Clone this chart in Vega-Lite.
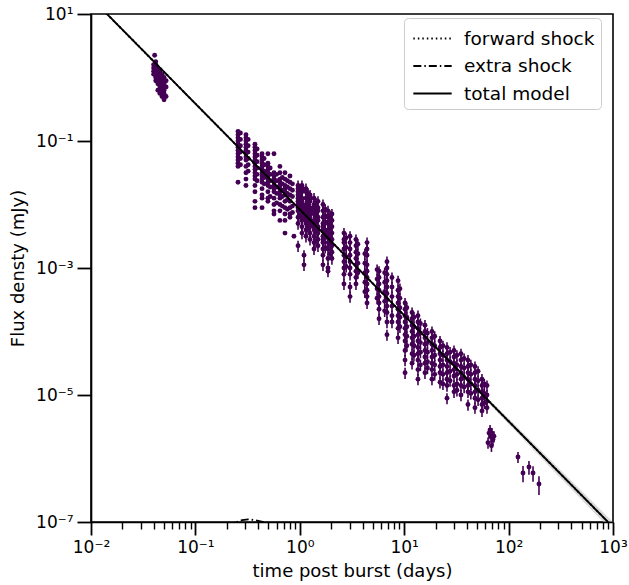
{
"$schema": "https://vega.github.io/schema/vega-lite/v6.json",
"width": 522, "height": 508,
"autosize": {"type": "none"},
"padding": {"left": 91, "top": 14, "right": 16, "bottom": 63},
"config": {
  "view": {"stroke": "black", "strokeWidth": 1.6},
  "font": "DejaVu Sans",
  "axis": {"domainColor": "black", "domainWidth": 1.6, "tickColor": "black", "labelColor": "black", "titleColor": "black", "labelFont": "DejaVu Sans", "titleFont": "DejaVu Sans", "labelFontSize": 17, "titleFontSize": 18, "titleFontWeight": "normal", "grid": false, "labelFlush": false, "labelOverlap": false, "labelBound": false}
},
"resolve": {"axis": {"x": "independent"}},
"datasets": {
"band": [
{"t":10,"lo":1.76e-4,"hi":1.83e-4},{"t":31.62,"lo":2.5e-5,"hi":2.78e-5},{"t":100,"lo":3.5e-6,"hi":4.26e-6},{"t":316.2,"lo":4.9e-7,"hi":6.55e-7},{"t":1000,"lo":6.9e-8,"hi":1.0e-7}
],
"lines": [
{"t":0.01,"f":17.99,"c":"forward shock"},{"t":0.1,"f":0.3873,"c":"forward shock"},{"t":1,"f":8.337e-3,"c":"forward shock"},{"t":10,"f":1.795e-4,"c":"forward shock"},{"t":100,"f":3.864e-6,"c":"forward shock"},{"t":1000,"f":8.318e-8,"c":"forward shock"},
{"t":0.22,"f":7e-8,"c":"extra shock"},{"t":0.25,"f":1.0e-7,"c":"extra shock"},{"t":0.28,"f":1.07e-7,"c":"extra shock"},{"t":0.32,"f":1.1e-7,"c":"extra shock"},{"t":0.36,"f":1.08e-7,"c":"extra shock"},{"t":0.40,"f":1.04e-7,"c":"extra shock"},{"t":0.44,"f":1.0e-7,"c":"extra shock"},{"t":0.5,"f":9e-8,"c":"extra shock"},
{"t":0.01,"f":17.99,"c":"total model"},{"t":0.1,"f":0.3873,"c":"total model"},{"t":1,"f":8.337e-3,"c":"total model"},{"t":10,"f":1.795e-4,"c":"total model"},{"t":100,"f":3.864e-6,"c":"total model"},{"t":1000,"f":8.318e-8,"c":"total model"}
],
"early": [
{"t":0.0407,"f":2.239},
{"t":0.0398,"f":1.585},{"t":0.0398,"f":1.413},{"t":0.0398,"f":1.259},{"t":0.0398,"f":1.122},
{"t":0.0417,"f":1.778},{"t":0.0417,"f":1.585},{"t":0.0417,"f":1.259},{"t":0.0417,"f":1.0},{"t":0.0417,"f":0.891},
{"t":0.0437,"f":1.413},{"t":0.0437,"f":1.122},{"t":0.0437,"f":0.891},{"t":0.0437,"f":0.794},{"t":0.0437,"f":1.259},{"t":0.0437,"f":0.631},
{"t":0.0457,"f":1.259},{"t":0.0457,"f":1.0},{"t":0.0457,"f":0.794},{"t":0.0457,"f":0.708},{"t":0.0457,"f":0.562},{"t":0.0457,"f":1.122},
{"t":0.0479,"f":1.122},{"t":0.0479,"f":0.891},{"t":0.0479,"f":0.708},{"t":0.0479,"f":0.631},{"t":0.0479,"f":0.501},{"t":0.0479,"f":1.0},
{"t":0.0501,"f":1.0},{"t":0.0501,"f":0.794},{"t":0.0501,"f":0.631},{"t":0.0501,"f":0.562},{"t":0.0501,"f":0.447},
{"t":0.0524,"f":0.891},{"t":0.0524,"f":0.708},{"t":0.0524,"f":0.501},
{"t":0.0407,"f":1.334},{"t":0.0427,"f":1.0},{"t":0.0447,"f":0.85},{"t":0.0468,"f":0.75},{"t":0.049,"f":0.6},
{"t":0.256,"f":0.1413},{"t":0.256,"f":0.1259},{"t":0.256,"f":0.1122},{"t":0.256,"f":0.1},{"t":0.256,"f":0.08913},{"t":0.256,"f":0.07943},{"t":0.256,"f":0.07079},{"t":0.256,"f":0.0631},{"t":0.256,"f":0.05623},{"t":0.256,"f":0.05012},{"t":0.256,"f":0.04467},{"t":0.256,"f":0.03981},{"t":0.256,"f":0.02239},
{"t":0.27,"f":0.1334},{"t":0.27,"f":0.1059},{"t":0.27,"f":0.08414},{"t":0.27,"f":0.06683},{"t":0.27,"f":0.05309},{"t":0.27,"f":0.04217},
{"t":0.305,"f":0.1259},{"t":0.305,"f":0.1122},{"t":0.305,"f":0.1},{"t":0.305,"f":0.08913},{"t":0.305,"f":0.07943},{"t":0.305,"f":0.07079},{"t":0.305,"f":0.0631},{"t":0.305,"f":0.05623},{"t":0.305,"f":0.05012},{"t":0.305,"f":0.03981},{"t":0.305,"f":0.03162},{"t":0.305,"f":0.02512},{"t":0.305,"f":0.01995},
{"t":0.32,"f":0.1059},{"t":0.32,"f":0.08414},{"t":0.32,"f":0.06683},{"t":0.32,"f":0.05309},{"t":0.32,"f":0.04217},{"t":0.32,"f":0.0335},
{"t":0.372,"f":0.08913},{"t":0.372,"f":0.07943},{"t":0.372,"f":0.07079},{"t":0.372,"f":0.0631},{"t":0.372,"f":0.05623},{"t":0.372,"f":0.05012},{"t":0.372,"f":0.04467},{"t":0.372,"f":0.03981},{"t":0.372,"f":0.03548},{"t":0.372,"f":0.03162},{"t":0.372,"f":0.02818},{"t":0.372,"f":0.02512},{"t":0.372,"f":0.01995},{"t":0.372,"f":0.01585},{"t":0.372,"f":0.01122},{"t":0.372,"f":0.008913},
{"t":0.39,"f":0.07499},{"t":0.39,"f":0.05957},{"t":0.39,"f":0.04732},{"t":0.39,"f":0.03758},{"t":0.39,"f":0.02985},{"t":0.39,"f":0.02371},
{"t":0.435,"f":0.0631},{"t":0.435,"f":0.05623},{"t":0.435,"f":0.05012},{"t":0.435,"f":0.04467},{"t":0.435,"f":0.03981},{"t":0.435,"f":0.03548},{"t":0.435,"f":0.03162},{"t":0.435,"f":0.02818},{"t":0.435,"f":0.02512},{"t":0.435,"f":0.02239},{"t":0.435,"f":0.01778},{"t":0.435,"f":0.01413},{"t":0.435,"f":0.01259},{"t":0.435,"f":0.008913},
{"t":0.455,"f":0.05309},{"t":0.455,"f":0.04217},{"t":0.455,"f":0.0335},{"t":0.455,"f":0.02661},{"t":0.455,"f":0.02113},
{"t":0.495,"f":0.0631},{"t":0.495,"f":0.04467},{"t":0.495,"f":0.03981},{"t":0.495,"f":0.03548},{"t":0.495,"f":0.03162},{"t":0.495,"f":0.02818},{"t":0.495,"f":0.02512},{"t":0.495,"f":0.02239},{"t":0.495,"f":0.01995},{"t":0.495,"f":0.01585},{"t":0.495,"f":0.01259},{"t":0.495,"f":0.01122},
{"t":0.52,"f":0.03758},{"t":0.52,"f":0.02985},{"t":0.52,"f":0.02371},{"t":0.52,"f":0.01884},{"t":0.52,"f":0.01334},
{"t":0.566,"f":0.0631},{"t":0.566,"f":0.03162},{"t":0.566,"f":0.02818},{"t":0.566,"f":0.02512},{"t":0.566,"f":0.02239},{"t":0.566,"f":0.01995},{"t":0.566,"f":0.01778},{"t":0.566,"f":0.01585},{"t":0.566,"f":0.01259},{"t":0.566,"f":0.01},{"t":0.566,"f":0.007943},{"t":0.566,"f":0.007079},
{"t":0.6,"f":0.02985},{"t":0.6,"f":0.02371},{"t":0.6,"f":0.01884},{"t":0.6,"f":0.01496},{"t":0.6,"f":0.01059},
{"t":0.645,"f":0.03981},{"t":0.645,"f":0.03162},{"t":0.645,"f":0.02512},{"t":0.645,"f":0.02239},{"t":0.645,"f":0.01995},{"t":0.645,"f":0.01778},{"t":0.645,"f":0.01585},{"t":0.645,"f":0.01413},{"t":0.645,"f":0.01259},{"t":0.645,"f":0.01},{"t":0.645,"f":0.007943},{"t":0.645,"f":0.005623},
{"t":0.68,"f":0.02661},{"t":0.68,"f":0.02113},{"t":0.68,"f":0.01679},{"t":0.68,"f":0.01334},{"t":0.68,"f":0.009441},
{"t":0.721,"f":0.03162},{"t":0.721,"f":0.02512},{"t":0.721,"f":0.01995},{"t":0.721,"f":0.01778},{"t":0.721,"f":0.01585},{"t":0.721,"f":0.01413},{"t":0.721,"f":0.01122},{"t":0.721,"f":0.008913},{"t":0.721,"f":0.007079},{"t":0.721,"f":0.005623},{"t":0.721,"f":0.003548},
{"t":0.76,"f":0.02371},{"t":0.76,"f":0.01884},{"t":0.76,"f":0.01496},{"t":0.76,"f":0.01189},{"t":0.76,"f":0.008414},
{"t":0.805,"f":0.02818},{"t":0.805,"f":0.02239},{"t":0.805,"f":0.01778},{"t":0.805,"f":0.01413},{"t":0.805,"f":0.01122},{"t":0.805,"f":0.008913},{"t":0.805,"f":0.007079},{"t":0.805,"f":0.00631},
{"t":0.85,"f":0.02113},{"t":0.85,"f":0.01679},{"t":0.85,"f":0.01334},{"t":0.85,"f":0.009441},{"t":0.85,"f":0.007499},
{"t":0.879,"f":0.003162}
],
"obs": [
{"t":0.962,"f":1.995e-2,"e":3.99e-3},{"t":0.962,"f":1.778e-2,"e":3.56e-3},{"t":0.962,"f":1.585e-2,"e":3.17e-3},{"t":0.962,"f":1.413e-2,"e":2.83e-3},{"t":0.962,"f":1.259e-2,"e":2.52e-3},{"t":0.962,"f":1.122e-2,"e":2.24e-3},{"t":0.962,"f":1e-2,"e":2e-3},{"t":0.962,"f":8.913e-3,"e":1.78e-3},{"t":0.962,"f":7.943e-3,"e":1.59e-3},{"t":0.962,"f":6.31e-3,"e":1.26e-3},{"t":0.962,"f":5.012e-3,"e":1e-3},{"t":0.962,"f":2.239e-3,"e":4.48e-4},
{"t":1.01,"f":1.679e-2,"e":3.36e-3},{"t":1.01,"f":1.334e-2,"e":2.67e-3},{"t":1.01,"f":1.059e-2,"e":2.12e-3},{"t":1.01,"f":8.414e-3,"e":1.68e-3},{"t":1.01,"f":6.683e-3,"e":1.34e-3},
{"t":1.049,"f":1.995e-2,"e":3.99e-3},{"t":1.049,"f":1.778e-2,"e":3.56e-3},{"t":1.049,"f":1.585e-2,"e":3.17e-3},{"t":1.049,"f":1.259e-2,"e":2.52e-3},{"t":1.049,"f":1.122e-2,"e":2.24e-3},{"t":1.049,"f":1e-2,"e":2e-3},{"t":1.049,"f":8.913e-3,"e":1.78e-3},{"t":1.049,"f":7.943e-3,"e":1.59e-3},{"t":1.049,"f":7.079e-3,"e":1.42e-3},{"t":1.049,"f":6.31e-3,"e":1.26e-3},{"t":1.049,"f":5.623e-3,"e":1.12e-3},{"t":1.049,"f":4.467e-3,"e":8.93e-4},{"t":1.049,"f":3.548e-3,"e":7.1e-4},
{"t":1.097,"f":1.585e-3,"e":3.17e-4},{"t":1.097,"f":1.122e-3,"e":2.24e-4},
{"t":1.146,"f":1.778e-2,"e":3.56e-3},{"t":1.146,"f":1.585e-2,"e":3.17e-3},{"t":1.146,"f":1.259e-2,"e":2.52e-3},{"t":1.146,"f":1e-2,"e":2e-3},{"t":1.146,"f":8.913e-3,"e":1.78e-3},{"t":1.146,"f":7.943e-3,"e":1.59e-3},{"t":1.146,"f":7.079e-3,"e":1.42e-3},{"t":1.146,"f":6.31e-3,"e":1.26e-3},{"t":1.146,"f":5.623e-3,"e":1.12e-3},{"t":1.146,"f":5.012e-3,"e":1e-3},{"t":1.146,"f":3.981e-3,"e":7.96e-4},{"t":1.146,"f":3.162e-3,"e":6.32e-4},
{"t":1.2,"f":1.496e-2,"e":2.99e-3},{"t":1.2,"f":1.189e-2,"e":2.38e-3},{"t":1.2,"f":9.441e-3,"e":1.89e-3},{"t":1.2,"f":7.499e-3,"e":1.5e-3},{"t":1.2,"f":5.309e-3,"e":1.06e-3},{"t":1.2,"f":4.217e-3,"e":8.43e-4},
{"t":1.253,"f":1.413e-2,"e":2.83e-3},{"t":1.253,"f":1.259e-2,"e":2.52e-3},{"t":1.253,"f":1.122e-2,"e":2.24e-3},{"t":1.253,"f":8.913e-3,"e":1.78e-3},{"t":1.253,"f":7.943e-3,"e":1.59e-3},{"t":1.253,"f":7.079e-3,"e":1.42e-3},{"t":1.253,"f":6.31e-3,"e":1.26e-3},{"t":1.253,"f":5.623e-3,"e":1.12e-3},{"t":1.253,"f":5.012e-3,"e":1e-3},{"t":1.253,"f":4.467e-3,"e":8.93e-4},{"t":1.253,"f":3.548e-3,"e":7.1e-4},{"t":1.253,"f":2.818e-3,"e":5.64e-4},
{"t":1.368,"f":1.259e-2,"e":2.52e-3},{"t":1.368,"f":1e-2,"e":2e-3},{"t":1.368,"f":8.913e-3,"e":1.78e-3},{"t":1.368,"f":7.943e-3,"e":1.59e-3},{"t":1.368,"f":7.079e-3,"e":1.42e-3},{"t":1.368,"f":5.623e-3,"e":1.12e-3},{"t":1.368,"f":5.012e-3,"e":1e-3},{"t":1.368,"f":4.467e-3,"e":8.93e-4},{"t":1.368,"f":3.981e-3,"e":7.96e-4},{"t":1.368,"f":3.162e-3,"e":6.32e-4},{"t":1.368,"f":2.512e-3,"e":5.02e-4},{"t":1.368,"f":1.995e-3,"e":3.99e-4},
{"t":1.43,"f":1.059e-2,"e":2.12e-3},{"t":1.43,"f":8.414e-3,"e":1.68e-3},{"t":1.43,"f":6.683e-3,"e":1.34e-3},{"t":1.43,"f":5.309e-3,"e":1.06e-3},{"t":1.43,"f":3.758e-3,"e":7.52e-4},{"t":1.43,"f":2.661e-3,"e":5.32e-4},
{"t":1.493,"f":1.122e-2,"e":2.24e-3},{"t":1.493,"f":8.913e-3,"e":1.78e-3},{"t":1.493,"f":7.943e-3,"e":1.59e-3},{"t":1.493,"f":6.31e-3,"e":1.26e-3},{"t":1.493,"f":5.623e-3,"e":1.12e-3},{"t":1.493,"f":4.467e-3,"e":8.93e-4},{"t":1.493,"f":3.981e-3,"e":7.96e-4},{"t":1.493,"f":3.548e-3,"e":7.1e-4},{"t":1.493,"f":2.818e-3,"e":5.64e-4},{"t":1.493,"f":2.239e-3,"e":4.48e-4},
{"t":1.667,"f":1e-2,"e":2e-3},{"t":1.667,"f":7.943e-3,"e":1.59e-3},{"t":1.667,"f":6.31e-3,"e":1.26e-3},{"t":1.667,"f":5.012e-3,"e":1e-3},{"t":1.667,"f":4.467e-3,"e":8.93e-4},{"t":1.667,"f":3.981e-3,"e":7.96e-4},{"t":1.667,"f":3.162e-3,"e":6.32e-4},{"t":1.667,"f":2.818e-3,"e":5.64e-4},{"t":1.667,"f":2.512e-3,"e":5.02e-4},{"t":1.667,"f":1.995e-3,"e":3.99e-4},{"t":1.667,"f":1.585e-3,"e":3.17e-4},{"t":1.667,"f":1.122e-3,"e":2.24e-4},
{"t":1.75,"f":8.414e-3,"e":1.68e-3},{"t":1.75,"f":6.683e-3,"e":1.34e-3},{"t":1.75,"f":5.309e-3,"e":1.06e-3},{"t":1.75,"f":3.758e-3,"e":7.52e-4},{"t":1.75,"f":2.985e-3,"e":5.97e-4},{"t":1.75,"f":2.113e-3,"e":4.23e-4},
{"t":1.862,"f":7.943e-3,"e":1.59e-3},{"t":1.862,"f":6.31e-3,"e":1.26e-3},{"t":1.862,"f":5.012e-3,"e":1e-3},{"t":1.862,"f":3.981e-3,"e":7.96e-4},{"t":1.862,"f":3.548e-3,"e":7.1e-4},{"t":1.862,"f":3.162e-3,"e":6.32e-4},{"t":1.862,"f":2.512e-3,"e":5.02e-4},{"t":1.862,"f":1.995e-3,"e":3.99e-4},{"t":1.862,"f":1.413e-3,"e":2.83e-4},{"t":1.862,"f":1e-3,"e":2e-4},{"t":1.862,"f":8.913e-4,"e":1.78e-4},
{"t":1.95,"f":6.683e-3,"e":1.34e-3},{"t":1.95,"f":5.309e-3,"e":1.06e-3},{"t":1.95,"f":4.217e-3,"e":8.43e-4},{"t":1.95,"f":2.985e-3,"e":5.97e-4},{"t":1.95,"f":2.371e-3,"e":4.74e-4},{"t":1.95,"f":1.679e-3,"e":3.36e-4},
{"t":2.032,"f":7.079e-3,"e":1.42e-3},{"t":2.032,"f":5.623e-3,"e":1.12e-3},{"t":2.032,"f":4.467e-3,"e":8.93e-4},{"t":2.032,"f":3.548e-3,"e":7.1e-4},{"t":2.032,"f":2.818e-3,"e":5.64e-4},{"t":2.032,"f":2.239e-3,"e":4.48e-4},{"t":2.032,"f":1.778e-3,"e":3.56e-4},{"t":2.032,"f":1.413e-3,"e":2.83e-4},
{"t":2.649,"f":3.548e-3,"e":7.1e-4},{"t":2.649,"f":2.818e-3,"e":5.64e-4},{"t":2.649,"f":2.512e-3,"e":5.02e-4},{"t":2.649,"f":1.995e-3,"e":3.99e-4},{"t":2.649,"f":1.585e-3,"e":3.17e-4},{"t":2.649,"f":1.259e-3,"e":2.52e-4},{"t":2.649,"f":1e-3,"e":2e-4},{"t":2.649,"f":7.943e-4,"e":1.59e-4},{"t":2.649,"f":5.623e-4,"e":1.12e-4},
{"t":2.78,"f":2.985e-3,"e":5.97e-4},{"t":2.78,"f":2.113e-3,"e":4.23e-4},{"t":2.78,"f":1.496e-3,"e":2.99e-4},{"t":2.78,"f":1.059e-3,"e":2.12e-4},
{"t":3.027,"f":3.162e-3,"e":6.32e-4},{"t":3.027,"f":2.512e-3,"e":5.02e-4},{"t":3.027,"f":1.995e-3,"e":3.99e-4},{"t":3.027,"f":1.585e-3,"e":3.17e-4},{"t":3.027,"f":1.259e-3,"e":2.52e-4},{"t":3.027,"f":1e-3,"e":2e-4},{"t":3.027,"f":7.943e-4,"e":1.59e-4},{"t":3.027,"f":5.012e-4,"e":1e-4},{"t":3.027,"f":3.548e-4,"e":7.1e-5},
{"t":3.451,"f":2.818e-3,"e":5.64e-4},{"t":3.451,"f":2.239e-3,"e":4.48e-4},{"t":3.451,"f":1.778e-3,"e":3.56e-4},{"t":3.451,"f":1.413e-3,"e":2.83e-4},{"t":3.451,"f":1.122e-3,"e":2.24e-4},{"t":3.451,"f":8.913e-4,"e":1.78e-4},{"t":3.451,"f":7.079e-4,"e":1.42e-4},{"t":3.451,"f":5.623e-4,"e":1.12e-4},
{"t":3.6,"f":2.371e-3,"e":4.74e-4},{"t":3.6,"f":1.679e-3,"e":3.36e-4},{"t":3.6,"f":1.189e-3,"e":2.38e-4},{"t":3.6,"f":8.414e-4,"e":1.68e-4},
{"t":4.2,"f":1.679e-3,"e":3.36e-4},{"t":4.2,"f":1.189e-3,"e":2.38e-4},{"t":4.2,"f":8.414e-4,"e":1.68e-4},{"t":4.2,"f":5.957e-4,"e":1.19e-4},{"t":4.2,"f":4.217e-4,"e":8.43e-5},
{"t":4.406,"f":2.512e-3,"e":5.02e-4},{"t":4.406,"f":1.995e-3,"e":3.99e-4},{"t":4.406,"f":1.585e-3,"e":3.17e-4},{"t":4.406,"f":1.122e-3,"e":2.24e-4},{"t":4.406,"f":8.913e-4,"e":1.78e-4},{"t":4.406,"f":7.079e-4,"e":1.42e-4},{"t":4.406,"f":5.623e-4,"e":1.12e-4},{"t":4.406,"f":4.467e-4,"e":8.93e-5},{"t":4.406,"f":3.548e-4,"e":7.1e-5},{"t":4.406,"f":2.818e-4,"e":5.64e-5},
{"t":5.5,"f":9.441e-4,"e":1.89e-4},{"t":5.5,"f":6.683e-4,"e":1.34e-4},{"t":5.5,"f":4.732e-4,"e":9.46e-5},{"t":5.5,"f":3.35e-4,"e":6.7e-5},
{"t":5.741,"f":8.913e-4,"e":1.78e-4},{"t":5.741,"f":7.079e-4,"e":1.42e-4},{"t":5.741,"f":5.623e-4,"e":1.12e-4},{"t":5.741,"f":4.467e-4,"e":8.93e-5},{"t":5.741,"f":3.548e-4,"e":7.1e-5},{"t":5.741,"f":2.818e-4,"e":5.64e-5},{"t":5.741,"f":2.239e-4,"e":4.48e-5},{"t":5.741,"f":1.585e-4,"e":3.17e-5},
{"t":6.5,"f":8.414e-4,"e":1.68e-4},{"t":6.5,"f":5.957e-4,"e":1.19e-4},{"t":6.5,"f":4.217e-4,"e":8.43e-5},{"t":6.5,"f":2.985e-4,"e":5.97e-5},{"t":6.5,"f":2.113e-4,"e":4.23e-5},
{"t":6.839,"f":1.259e-3,"e":2.52e-4},{"t":6.839,"f":1e-3,"e":2e-4},{"t":6.839,"f":7.943e-4,"e":1.59e-4},{"t":6.839,"f":6.31e-4,"e":1.26e-4},{"t":6.839,"f":5.012e-4,"e":1e-4},{"t":6.839,"f":3.981e-4,"e":7.96e-5},{"t":6.839,"f":3.162e-4,"e":6.32e-5},{"t":6.839,"f":2.512e-4,"e":5.02e-5},{"t":6.839,"f":1.995e-4,"e":3.99e-5},{"t":6.839,"f":1.413e-4,"e":2.83e-5},{"t":6.839,"f":8.913e-5,"e":1.78e-5},
{"t":7.638,"f":7.079e-4,"e":1.42e-4},{"t":7.638,"f":5.012e-4,"e":1e-4},{"t":7.638,"f":3.548e-4,"e":7.1e-5},{"t":7.638,"f":2.512e-4,"e":5.02e-5},{"t":7.638,"f":1.778e-4,"e":3.56e-5},{"t":7.638,"f":1.413e-4,"e":2.83e-5},
{"t":8.73,"f":6.31e-4,"e":1.26e-4},{"t":8.73,"f":4.467e-4,"e":8.93e-5},{"t":8.73,"f":3.548e-4,"e":7.1e-5},{"t":8.73,"f":2.818e-4,"e":5.64e-5},{"t":8.73,"f":2.239e-4,"e":4.48e-5},{"t":8.73,"f":1.778e-4,"e":3.56e-5},{"t":8.73,"f":1.413e-4,"e":2.83e-5},{"t":8.73,"f":1.122e-4,"e":2.24e-5},{"t":8.73,"f":7.943e-5,"e":1.59e-5},
{"t":9.1,"f":4.732e-4,"e":9.46e-5},{"t":9.1,"f":3.35e-4,"e":6.7e-5},{"t":9.1,"f":2.371e-4,"e":4.74e-5},{"t":9.1,"f":1.679e-4,"e":3.36e-5},{"t":9.1,"f":1.189e-4,"e":2.38e-5},
{"t":10.19,"f":2.818e-4,"e":5.64e-5},{"t":10.19,"f":2.239e-4,"e":4.48e-5},{"t":10.19,"f":1.778e-4,"e":3.56e-5},{"t":10.19,"f":1.413e-4,"e":2.83e-5},{"t":10.19,"f":1.122e-4,"e":2.24e-5},{"t":10.19,"f":8.913e-5,"e":1.78e-5},{"t":10.19,"f":7.079e-5,"e":1.42e-5},{"t":10.19,"f":5.012e-5,"e":1e-5},{"t":10.19,"f":3.548e-5,"e":7.1e-6},{"t":10.19,"f":2.239e-5,"e":4.48e-6},
{"t":10.6,"f":2.371e-4,"e":4.74e-5},{"t":10.6,"f":1.679e-4,"e":3.36e-5},{"t":10.6,"f":1.189e-4,"e":2.38e-5},{"t":10.6,"f":8.414e-5,"e":1.68e-5},{"t":10.6,"f":5.957e-5,"e":1.19e-5},
{"t":11.89,"f":1.995e-4,"e":3.99e-5},{"t":11.89,"f":1.585e-4,"e":3.17e-5},{"t":11.89,"f":1.259e-4,"e":2.52e-5},{"t":11.89,"f":1e-4,"e":2e-5},{"t":11.89,"f":7.943e-5,"e":1.59e-5},{"t":11.89,"f":6.31e-5,"e":1.26e-5},{"t":11.89,"f":4.467e-5,"e":8.93e-6},{"t":11.89,"f":3.162e-5,"e":6.32e-6},
{"t":12.4,"f":1.679e-4,"e":3.36e-5},{"t":12.4,"f":1.189e-4,"e":2.38e-5},{"t":12.4,"f":8.414e-5,"e":1.68e-5},{"t":12.4,"f":5.957e-5,"e":1.19e-5},{"t":12.4,"f":4.217e-5,"e":8.43e-6},
{"t":13.55,"f":1.778e-4,"e":3.56e-5},{"t":13.55,"f":1.413e-4,"e":2.83e-5},{"t":13.55,"f":1.122e-4,"e":2.24e-5},{"t":13.55,"f":8.913e-5,"e":1.78e-5},{"t":13.55,"f":7.079e-5,"e":1.42e-5},{"t":13.55,"f":5.623e-5,"e":1.12e-5},{"t":13.55,"f":4.467e-5,"e":8.93e-6},{"t":13.55,"f":3.548e-5,"e":7.1e-6},{"t":13.55,"f":2.512e-5,"e":5.02e-6},{"t":13.55,"f":1.778e-5,"e":3.56e-6},
{"t":14.3,"f":1.334e-4,"e":2.67e-5},{"t":14.3,"f":9.441e-5,"e":1.89e-5},{"t":14.3,"f":6.683e-5,"e":1.34e-5},{"t":14.3,"f":4.732e-5,"e":9.46e-6},{"t":14.3,"f":2.985e-5,"e":5.97e-6},
{"t":15.81,"f":1.259e-4,"e":2.52e-5},{"t":15.81,"f":1e-4,"e":2e-5},{"t":15.81,"f":7.943e-5,"e":1.59e-5},{"t":15.81,"f":6.31e-5,"e":1.26e-5},{"t":15.81,"f":5.012e-5,"e":1e-5},{"t":15.81,"f":3.981e-5,"e":7.96e-6},{"t":15.81,"f":3.162e-5,"e":6.32e-6},{"t":15.81,"f":2.239e-5,"e":4.48e-6},
{"t":16.7,"f":9.441e-5,"e":1.89e-5},{"t":16.7,"f":6.683e-5,"e":1.34e-5},{"t":16.7,"f":4.732e-5,"e":9.46e-6},{"t":16.7,"f":3.35e-5,"e":6.7e-6},{"t":16.7,"f":2.661e-5,"e":5.32e-6},
{"t":18.45,"f":1e-4,"e":2e-5},{"t":18.45,"f":7.943e-5,"e":1.59e-5},{"t":18.45,"f":6.31e-5,"e":1.26e-5},{"t":18.45,"f":5.012e-5,"e":1e-5},{"t":18.45,"f":3.981e-5,"e":7.96e-6},{"t":18.45,"f":3.162e-5,"e":6.32e-6},{"t":18.45,"f":2.512e-5,"e":5.02e-6},{"t":18.45,"f":1.778e-5,"e":3.56e-6},
{"t":19.6,"f":8.414e-5,"e":1.68e-5},{"t":19.6,"f":5.957e-5,"e":1.19e-5},{"t":19.6,"f":4.217e-5,"e":8.43e-6},{"t":19.6,"f":2.985e-5,"e":5.97e-6},{"t":19.6,"f":2.113e-5,"e":4.23e-6},
{"t":22.03,"f":7.079e-5,"e":1.42e-5},{"t":22.03,"f":5.623e-5,"e":1.12e-5},{"t":22.03,"f":4.467e-5,"e":8.93e-6},{"t":22.03,"f":3.548e-5,"e":7.1e-6},{"t":22.03,"f":2.818e-5,"e":5.64e-6},{"t":22.03,"f":2.239e-5,"e":4.48e-6},{"t":22.03,"f":1.585e-5,"e":3.17e-6},
{"t":23.5,"f":5.957e-5,"e":1.19e-5},{"t":23.5,"f":4.217e-5,"e":8.43e-6},{"t":23.5,"f":2.985e-5,"e":5.97e-6},{"t":23.5,"f":2.113e-5,"e":4.23e-6},{"t":23.5,"f":1.496e-5,"e":2.99e-6},
{"t":25.7,"f":5.623e-5,"e":1.12e-5},{"t":25.7,"f":4.467e-5,"e":8.93e-6},{"t":25.7,"f":3.548e-5,"e":7.1e-6},{"t":25.7,"f":2.818e-5,"e":5.64e-6},{"t":25.7,"f":2.239e-5,"e":4.48e-6},{"t":25.7,"f":1.778e-5,"e":3.56e-6},{"t":25.7,"f":1.413e-5,"e":2.83e-6},{"t":25.7,"f":8.913e-6,"e":1.78e-6},
{"t":27.5,"f":4.732e-5,"e":9.46e-6},{"t":27.5,"f":3.35e-5,"e":6.7e-6},{"t":27.5,"f":2.371e-5,"e":4.74e-6},{"t":27.5,"f":1.679e-5,"e":3.36e-6},
{"t":29.99,"f":5.012e-5,"e":1e-5},{"t":29.99,"f":3.981e-5,"e":7.96e-6},{"t":29.99,"f":3.162e-5,"e":6.32e-6},{"t":29.99,"f":2.512e-5,"e":5.02e-6},{"t":29.99,"f":1.995e-5,"e":3.99e-6},{"t":29.99,"f":1.413e-5,"e":2.83e-6},{"t":29.99,"f":1.122e-5,"e":2.24e-6},
{"t":32.0,"f":4.217e-5,"e":8.43e-6},{"t":32.0,"f":2.985e-5,"e":5.97e-6},{"t":32.0,"f":2.113e-5,"e":4.23e-6},{"t":32.0,"f":1.496e-5,"e":2.99e-6},{"t":32.0,"f":1.189e-5,"e":2.38e-6},
{"t":34.99,"f":4.467e-5,"e":8.93e-6},{"t":34.99,"f":3.548e-5,"e":7.1e-6},{"t":34.99,"f":2.818e-5,"e":5.64e-6},{"t":34.99,"f":2.239e-5,"e":4.48e-6},{"t":34.99,"f":1.778e-5,"e":3.56e-6},{"t":34.99,"f":1.413e-5,"e":2.83e-6},{"t":34.99,"f":1e-5,"e":2e-6},
{"t":37.5,"f":3.758e-5,"e":7.52e-6},{"t":37.5,"f":2.661e-5,"e":5.32e-6},{"t":37.5,"f":1.884e-5,"e":3.77e-6},{"t":37.5,"f":1.334e-5,"e":2.67e-6},
{"t":40.83,"f":3.548e-5,"e":7.1e-6},{"t":40.83,"f":2.818e-5,"e":5.64e-6},{"t":40.83,"f":2.239e-5,"e":4.48e-6},{"t":40.83,"f":1.778e-5,"e":3.56e-6},{"t":40.83,"f":1.413e-5,"e":2.83e-6},{"t":40.83,"f":1.122e-5,"e":2.24e-6},{"t":40.83,"f":7.079e-6,"e":1.42e-6},
{"t":43.5,"f":2.985e-5,"e":5.97e-6},{"t":43.5,"f":2.113e-5,"e":4.23e-6},{"t":43.5,"f":1.496e-5,"e":2.99e-6},{"t":43.5,"f":1.059e-5,"e":2.12e-6},
{"t":47.64,"f":2.818e-5,"e":5.64e-6},{"t":47.64,"f":2.239e-5,"e":4.48e-6},{"t":47.64,"f":1.778e-5,"e":3.56e-6},{"t":47.64,"f":1.413e-5,"e":2.83e-6},{"t":47.64,"f":1.122e-5,"e":2.24e-6},{"t":47.64,"f":8.913e-6,"e":1.78e-6},{"t":47.64,"f":6.31e-6,"e":1.26e-6},
{"t":51.0,"f":2.371e-5,"e":4.74e-6},{"t":51.0,"f":1.679e-5,"e":3.36e-6},{"t":51.0,"f":1.189e-5,"e":2.38e-6},{"t":51.0,"f":8.414e-6,"e":1.68e-6},
{"t":55.59,"f":1.778e-5,"e":3.56e-6},{"t":55.59,"f":1.413e-5,"e":2.83e-6},{"t":55.59,"f":1.122e-5,"e":2.24e-6},{"t":55.59,"f":8.913e-6,"e":1.78e-6},{"t":55.59,"f":7.079e-6,"e":1.42e-6},{"t":55.59,"f":5.623e-6,"e":1.12e-6},
{"t":58.5,"f":1.496e-5,"e":2.99e-6},{"t":58.5,"f":1.059e-5,"e":2.12e-6},{"t":58.5,"f":7.499e-6,"e":1.5e-6},
{"t":62.09,"f":1.413e-5,"e":2.83e-6},{"t":62.09,"f":1e-5,"e":2e-6},{"t":62.09,"f":7.943e-6,"e":1.59e-6},{"t":62.09,"f":6.31e-6,"e":1.26e-6},
{"t":63.5,"f":1.778e-6,"e":3.56e-7},{"t":64.9,"f":2.512e-6,"e":5.02e-7},{"t":66.4,"f":2.818e-6,"e":5.64e-7},{"t":67.8,"f":2.239e-6,"e":4.48e-7},{"t":69.3,"f":2.512e-6,"e":5.02e-7},{"t":70.8,"f":1.995e-6,"e":3.99e-7},{"t":72.4,"f":2.239e-6,"e":4.48e-7},{"t":68.5,"f":1.585e-6,"e":3.17e-7},
{"t":123.0,"f":1.057e-6,"e":2.1e-7},{"t":137.4,"f":5.92e-7,"e":1.7e-7},{"t":156.7,"f":7.35e-7,"e":1.8e-7},{"t":171.4,"f":5.92e-7,"e":1.6e-7},{"t":195.4,"f":3.96e-7,"e":1.3e-7}
]
},
"layer": [
{
 "data": {"name": "band"},
 "mark": {"type": "area", "color": "#bdbdbd", "opacity": 0.55, "clip": true},
 "encoding": {
  "x": {"field": "t", "type": "quantitative", "title": "time post burst (days)",
    "scale": {"type": "log", "domain": [0.01, 1000], "nice": false},
    "axis": {
      "orient": "bottom", "offset": 0, "tickCount": 100,
      "values": [0.01, 0.1, 1, 10, 100, 1000],
      "labelExpr": "'10' + replace(replace(replace(replace(replace(''+round(log(datum.value)/LN10),'-','⁻'),'0','⁰'),'1','¹'),'2','²'),'3','³')",
      "tickSize": 13, "tickWidth": 1.8, "labelPadding": 4, "titlePadding": 7
    }},
  "y": {"field": "lo", "type": "quantitative", "title": "Flux densty (mJy)",
    "scale": {"type": "log", "domain": [1e-7, 10], "nice": false},
    "axis": {
      "values": [1e-7, 1e-5, 1e-3, 0.1, 10],
      "labelExpr": "'10' + replace(replace(replace(replace(replace(replace(replace(''+round(log(datum.value)/LN10),'-','⁻'),'0','⁰'),'1','¹'),'2','²'),'3','³'),'5','⁵'),'7','⁷')",
      "tickSize": 14, "tickWidth": 1.8, "labelPadding": 4, "titlePadding": 8
    }},
  "y2": {"field": "hi"}
 }
},
{
 "data": {"name": "obs"},
 "mark": {"type": "errorbar", "color": "#440154", "thickness": 1.6},
 "encoding": {
  "x": {"field": "t", "type": "quantitative", "scale": {"type": "log", "domain": [0.01, 1000], "nice": false}, "axis": null},
  "y": {"field": "f", "type": "quantitative", "title": "Flux densty (mJy)", "scale": {"type": "log", "domain": [1e-7, 10], "nice": false}},
  "yError": {"field": "e"}
 }
},
{
 "data": {"name": "early"},
 "mark": {"type": "point", "filled": true, "color": "#440154", "opacity": 1, "size": 24},
 "encoding": {
  "x": {"field": "t", "type": "quantitative", "title": "minor", "scale": {"type": "log", "domain": [0.01, 1000], "nice": false},
    "axis": {"orient": "bottom", "offset": 0, "title": null, "labels": false, "domain": false, "ticks": true, "tickCount": 100,
      "values": [0.02,0.03,0.04,0.05,0.06,0.07,0.08,0.09,0.2,0.3,0.4,0.5,0.6,0.7,0.8,0.9,2,3,4,5,6,7,8,9,20,30,40,50,60,70,80,90,200,300,400,500,600,700,800,900],
      "tickSize": 7, "tickWidth": 1.4, "tickColor": "black"}},
  "y": {"field": "f", "type": "quantitative", "title": "Flux densty (mJy)", "scale": {"type": "log", "domain": [1e-7, 10], "nice": false}}
 }
},
{
 "data": {"name": "obs"},
 "mark": {"type": "point", "filled": true, "color": "#440154", "opacity": 1, "size": 24},
 "encoding": {
  "x": {"field": "t", "type": "quantitative", "scale": {"type": "log", "domain": [0.01, 1000], "nice": false}, "axis": null},
  "y": {"field": "f", "type": "quantitative", "title": "Flux densty (mJy)", "scale": {"type": "log", "domain": [1e-7, 10], "nice": false}}
 }
},
{
 "data": {"name": "lines"},
 "mark": {"type": "line", "clip": true, "strokeWidth": 1.9},
 "encoding": {
  "x": {"field": "t", "type": "quantitative", "scale": {"type": "log", "domain": [0.01, 1000], "nice": false}, "axis": null},
  "y": {"field": "f", "type": "quantitative", "title": "Flux densty (mJy)", "scale": {"type": "log", "domain": [1e-7, 10], "nice": false}},
  "color": {"field": "c", "type": "nominal", "title": null,
    "scale": {"domain": ["forward shock", "extra shock", "total model"], "range": ["black", "black", "black"]},
    "legend": {"orient": "none", "legendX": 313, "legendY": 4, "symbolType": "M-1.45,0H1.45", "symbolSize": 700, "symbolStrokeWidth": 1.8, "symbolOffset": 8, "labelFontSize": 18.5, "labelFont": "DejaVu Sans", "labelColor": "black", "labelOffset": 17, "padding": 6, "rowPadding": 3.5, "strokeColor": "#cccccc", "fillColor": "white", "cornerRadius": 4}},
  "strokeDash": {"field": "c", "type": "nominal", "title": null,
    "scale": {"domain": ["forward shock", "extra shock", "total model"], "range": [[1.5, 3], [8, 3, 1.5, 3], [1, 0]]},
    "legend": {"orient": "none", "legendX": 313, "legendY": 4, "symbolType": "M-1.45,0H1.45", "symbolSize": 700, "symbolStrokeWidth": 1.8, "symbolOffset": 8, "labelFontSize": 18.5, "labelFont": "DejaVu Sans", "labelColor": "black", "labelOffset": 17, "padding": 6, "rowPadding": 3.5, "strokeColor": "#cccccc", "fillColor": "white", "cornerRadius": 4}}
 }
}
]
}
